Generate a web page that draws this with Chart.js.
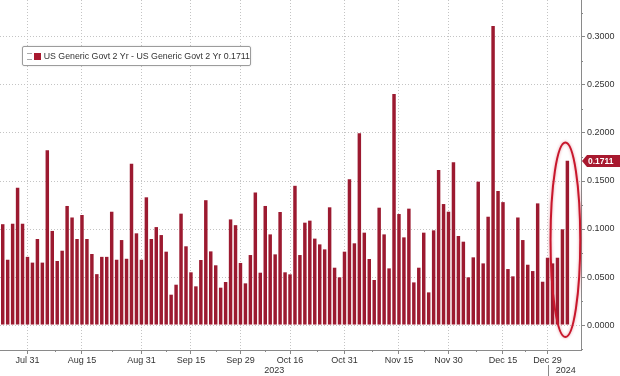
<!DOCTYPE html>
<html lang="en">
<head>
  <meta charset="UTF-8" />
  <title>US Generic Govt 2 Yr - daily range</title>
  <script src="https://cdn.jsdelivr.net/npm/chart.js"></script>
  <style>
    html, body {
      margin: 0;
      padding: 0;
      background: #fff;
    }

    .wrap {
      position: relative;
      width: 620px;
      height: 376px;
    }

    .legend {
      position: absolute;
      left: 22px;
      top: 46px;
      width: 229px;
      height: 20px;
      box-sizing: border-box;
      border: 1px solid #9c9c9c;
      border-radius: 2px;
      background: #fff;
      box-shadow: 0 0 2px rgba(0,0,0,0.15);
      font: 8.8px 'Liberation Sans', Arial, sans-serif;
      color: #333;
      display: flex;
      align-items: center;
      white-space: nowrap;
    }

    .legend .ico {
      display: inline-block;
      width: 5px;
      height: 5px;
      margin-left: 4px;
      border-top: 1px solid #aaa;
      border-bottom: 1px solid #aaa;
    }

    .legend .sq {
      display: inline-block;
      width: 7px;
      height: 7px;
      margin: 0 3px 0 2px;
      background: #a8192f;
    }
  </style>
</head>
<body>

  <div class="wrap">
    <canvas id="chart" width="620" height="376"></canvas>
    <div class="legend"><span class="ico"></span><span class="sq"></span><span id="legendText"></span></div>
  </div>

  <script>
    // daily high-low range of the 2y yield, one bar per trading day from Jul 24 2023
    const startDate = '2023-07-24';
    const holidays = ['2023-09-04', '2023-10-09', '2023-11-23', '2023-12-25', '2024-01-01'];
    const extraSlots = 2; // empty days at the right end of the axis

    const rangeValues = [
      0.105, 0.068, 0.1055, 0.143, 0.1055, 0.071, 0.065, 0.0896, 0.065, 0.182,
      0.098, 0.0667, 0.0774, 0.124, 0.112, 0.0896, 0.1146, 0.0896, 0.074, 0.053,
      0.071, 0.071, 0.118, 0.068, 0.0885, 0.069, 0.168, 0.0955, 0.068, 0.133,
      0.0896, 0.102,
      0.0937, 0.0764, 0.0316, 0.042, 0.116, 0.082, 0.0549, 0.0403, 0.0677, 0.130,
      0.0767, 0.0622, 0.0389, 0.0448, 0.110, 0.104, 0.0646, 0.0434, 0.0729, 0.138,
      0.0545, 0.124, 0.0944, 0.0736, 0.1177, 0.0549, 0.0528, 0.145, 0.0729, 0.1066,
      0.1087,
      0.090, 0.084, 0.0788, 0.1226, 0.0597, 0.0497, 0.0764, 0.1517, 0.0851, 0.1997,
      0.0962, 0.0688, 0.0469, 0.1222, 0.0944, 0.059, 0.2406, 0.1156, 0.0913, 0.1212,
      0.0444, 0.0597, 0.0962, 0.034, 0.0986, 0.1615, 0.126, 0.118, 0.1695, 0.0927,
      0.0868, 0.0497, 0.0705, 0.1493, 0.0642, 0.1128, 0.3115, 0.1396, 0.128, 0.0583,
      0.0507, 0.112, 0.0885, 0.0628, 0.0562, 0.1267, 0.0451, 0.0701, 0.0642, 0.0701,
      0.0997, 0.1711
    ];

    const seriesName = 'US Generic Govt 2 Yr - US Generic Govt 2 Yr';
    const lastValue = 0.1711;

    const xTickLabels = ['Jul 31', 'Aug 15', 'Aug 31', 'Sep 15', 'Sep 29', 'Oct 16', 'Oct 31', 'Nov 15', 'Nov 30', 'Dec 15', 'Dec 29'];
    const yTicks = [0, 0.05, 0.10, 0.15, 0.20, 0.25, 0.30];
    const yMinorTicks = [-0.025, 0.025, 0.075, 0.125, 0.175, 0.225, 0.275, 0.325];
    const highlightRange = [-0.0125, 0.19]; // red ring around the last days

    const monthNames = ['Jan', 'Feb', 'Mar', 'Apr', 'May', 'Jun', 'Jul', 'Aug', 'Sep', 'Oct', 'Nov', 'Dec'];

    // trading-day calendar
    const dates = [];
    let d = new Date(startDate + 'T12:00:00Z');
    while (dates.length < rangeValues.length + extraSlots) {
      const iso = d.toISOString().slice(0, 10);
      const wd = d.getUTCDay();
      if (wd !== 0 && wd !== 6 && !holidays.includes(iso)) dates.push(iso);
      d = new Date(d.getTime() + 86400000);
    }
    const fmt = iso => monthNames[+iso.slice(5, 7) - 1] + ' ' + (+iso.slice(8, 10));

    const tickIdx = [];
    dates.forEach((iso, i) => {
      if (i < rangeValues.length && xTickLabels.includes(fmt(iso))) tickIdx.push(i);
    });
    const yearBreak = dates.findIndex(iso => iso.startsWith('2024'));

    document.getElementById('legendText').textContent = seriesName + ' ' + lastValue.toFixed(4);

    const FONT = "'Liberation Sans', Arial, sans-serif";
    const RED = '#a8192f';

    // year row, separator, minor ticks, value tag and the ring
    const extras = {
      id: 'extras',
      afterDraw(chart) {
        const { ctx, chartArea, scales: { x, y } } = chart;
        ctx.save();

        // minor ticks on x (half-way between labels)
        ctx.strokeStyle = '#888';
        ctx.lineWidth = 1;
        for (let k = 0; k < tickIdx.length - 1; k++) {
          const px = Math.round(x.getPixelForValue((tickIdx[k] + tickIdx[k + 1]) / 2)) + 0.5;
          ctx.beginPath();
          ctx.moveTo(px, chartArea.bottom);
          ctx.lineTo(px, chartArea.bottom + 2);
          ctx.stroke();
        }
        // minor ticks on y
        yMinorTicks.forEach(v => {
          const py = Math.round(y.getPixelForValue(v)) + 0.5;
          if (py < chartArea.top || py > chartArea.bottom) return;
          ctx.beginPath();
          ctx.moveTo(chartArea.right, py);
          ctx.lineTo(chartArea.right + 2, py);
          ctx.stroke();
        });

        // year labels
        ctx.fillStyle = '#333';
        ctx.font = '9px ' + FONT;
        ctx.textAlign = 'center';
        ctx.textBaseline = 'middle';
        const sepX = Math.round(x.getPixelForValue(yearBreak - 1)) + 0.5;
        ctx.fillText('2023', (chartArea.left + sepX) / 2, 371);
        ctx.fillText('2024', (sepX + chartArea.right) / 2 + 1, 371);
        ctx.beginPath();
        ctx.moveTo(sepX, 365);
        ctx.lineTo(sepX, 376);
        ctx.stroke();

        // ring around the last bars
        const last = rangeValues.length - 1;
        const cx = x.getPixelForValue(last - 0.4);
        const rx = (x.getPixelForValue(3) - x.getPixelForValue(0));
        const yTop = y.getPixelForValue(highlightRange[1]);
        const yBot = y.getPixelForValue(highlightRange[0]);
        ctx.strokeStyle = '#c8172c';
        ctx.lineWidth = 2;
        ctx.shadowColor = 'rgba(200,23,44,0.45)';
        ctx.shadowBlur = 3;
        ctx.beginPath();
        ctx.ellipse(cx, (yTop + yBot) / 2, rx, (yBot - yTop) / 2, 0, 0, Math.PI * 2);
        ctx.stroke();
        ctx.shadowBlur = 0;

        // last value tag
        const ty = Math.round(y.getPixelForValue(lastValue));
        const tx = chartArea.right + 1;
        ctx.fillStyle = RED;
        ctx.beginPath();
        ctx.moveTo(tx, ty);
        ctx.lineTo(tx + 5, ty - 6);
        ctx.lineTo(620, ty - 6);
        ctx.lineTo(620, ty + 6);
        ctx.lineTo(tx + 5, ty + 6);
        ctx.closePath();
        ctx.fill();
        ctx.fillStyle = '#fff';
        ctx.font = 'bold 8.5px ' + FONT;
        ctx.textAlign = 'left';
        ctx.fillText(lastValue.toFixed(4), tx + 6, ty + 0.5);

        ctx.restore();
      }
    };

    new Chart(document.getElementById('chart'), {
      type: 'bar',
      data: {
        datasets: [{
          label: seriesName,
          data: rangeValues.map((v, i) => ({ x: i, y: v })),
          backgroundColor: '#9c1a30',
          borderWidth: 0,
          barPercentage: 0.7,
          categoryPercentage: 1
        }]
      },
      options: {
        responsive: false,
        animation: false,
        devicePixelRatio: 1,
        layout: { padding: 0 },
        plugins: {
          legend: { display: false },
          tooltip: { enabled: false }
        },
        scales: {
          x: {
            type: 'linear',
            offset: false,
            min: -0.55,
            max: dates.length - 0.25,
            afterBuildTicks: scale => { scale.ticks = tickIdx.map(i => ({ value: i })); },
            afterFit: scale => {
              scale.height = 26;
              scale.paddingLeft = 0;
              scale.paddingRight = 0;
            },
            ticks: {
              autoSkip: false,
              maxRotation: 0,
              padding: 1,
              color: '#333',
              font: { family: FONT, size: 9 },
              callback: v => fmt(dates[v])
            },
            grid: {
              offset: false,
              color: '#c4c4c4',
              tickColor: '#888',
              tickLength: 4
            },
            border: { display: true, color: '#8a8a8a', dash: [1, 2] }
          },
          y: {
            position: 'right',
            min: -0.026,
            max: 0.3385,
            afterBuildTicks: scale => { scale.ticks = yTicks.map(v => ({ value: v })); },
            afterFit: scale => {
              scale.width = 39;
              scale.paddingTop = 0;
              scale.paddingBottom = 0;
            },
            ticks: {
              padding: 2,
              color: '#333',
              font: { family: FONT, size: 9 },
              callback: v => v.toFixed(4)
            },
            grid: {
              color: '#c4c4c4',
              tickColor: '#888',
              tickLength: 4
            },
            border: { display: true, color: '#8a8a8a', dash: [1, 2] }
          }
        }
      },
      plugins: [extras]
    });
  </script>
</body>
</html>
